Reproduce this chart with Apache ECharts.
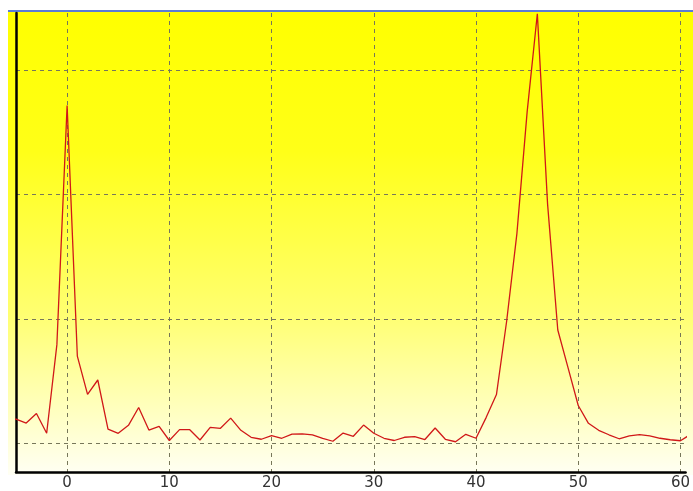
<!DOCTYPE html>
<html>
<head>
<meta charset="utf-8">
<script src="https://cdn.jsdelivr.net/npm/echarts@6/dist/echarts.min.js"></script>
<style>
  html, body { margin: 0; padding: 0; background: #ffffff; overflow: hidden; }
  #chart { position: absolute; left: 8px; top: 0; width: 685px; height: 491px; }
</style>
</head>
<body>
<div id="chart"></div>
<script>
// ---- data ----
var xValues = [-6, -5, -4, -3, -2, -1, 0, 1, 2, 3, 4, 5, 6, 7, 8, 9, 10, 11, 12, 13, 14, 15, 16, 17, 18, 19, 20,
  21, 22, 23, 24, 25, 26, 27, 28, 29, 30, 31, 32, 33, 34, 35, 36, 37, 38, 39, 40,
  41, 42, 43, 44, 45, 46, 47, 48, 49, 50, 51, 52, 53, 54, 55, 56, 57, 58, 59, 60, 61];
var yValues = [1.96, 1.94, 1.62, 2.39, 0.80, 7.92, 27.13, 7.00, 3.93, 5.08, 1.14, 0.80, 1.44, 2.87, 1.06, 1.36, 0.22,
  1.09, 1.09, 0.26, 1.28, 1.20, 2.02, 1.04, 0.48, 0.32, 0.61,
  0.40, 0.74, 0.76, 0.68, 0.40, 0.16, 0.82, 0.56, 1.46, 0.80, 0.40, 0.22, 0.48, 0.53, 0.30, 1.22, 0.32, 0.12, 0.72, 0.40,
  2.08, 3.91, 9.82, 16.84, 26.60, 34.50, 19.23, 9.10, 6.07, 3.03, 1.60, 1.04, 0.68, 0.36, 0.60, 0.69, 0.60, 0.40, 0.28, 0.20, 0.72];
var xTickValues = [0, 10, 20, 30, 40, 50, 60];
var yTickValues = [0, 10, 20, 30];

var seriesData = xValues.map(function (x, i) { return [x, yValues[i]]; });

var chart = echarts.init(document.getElementById('chart'), null, { renderer: 'canvas' });
chart.setOption({
  animation: false,
  backgroundColor: 'transparent',
  grid: { left: 8, right: 0, top: 13, bottom: 16, containLabel: false },
  graphic: [
    {
      type: 'rect', z: -100, silent: true,
      shape: { x: 0, y: 12, width: 685, height: 463 },
      style: {
        fill: {
          type: 'linear', x: 0, y: 0, x2: 0, y2: 1,
          colorStops: [
            { offset: 0, color: '#ffff00' },
            { offset: 0.3, color: '#ffff18' },
            { offset: 0.65, color: '#ffff70' },
            { offset: 1, color: '#fffff4' }
          ]
        }
      }
    },
    {
      type: 'line', z: 100, silent: true,
      shape: { x1: 0, y1: 11, x2: 685, y2: 11 },
      style: { stroke: '#2350c8', lineWidth: 1.5 }
    }
  ],
  xAxis: {
    type: 'value',
    min: -5,
    max: 60.5,
    axisLine: { show: true, onZero: false, lineStyle: { color: '#000000', width: 2.5 } },
    axisTick: { show: false, customValues: xTickValues },
    axisLabel: {
      customValues: xTickValues,
      color: '#333333',
      fontFamily: 'DejaVu Sans',
      fontSize: 15,
      margin: 4
    },
    splitLine: { show: true, lineStyle: { color: '#77775a', width: 1, type: [4, 4] } }
  },
  yAxis: {
    type: 'value',
    min: -2.31,
    max: 34.56,
    axisLine: { show: true, onZero: false, lineStyle: { color: '#000000', width: 2.5 } },
    axisTick: { show: false, customValues: yTickValues },
    axisLabel: { show: false, customValues: yTickValues },
    splitLine: { show: true, lineStyle: { color: '#77775a', width: 1, type: [4, 4] } }
  },
  series: [
    {
      type: 'line',
      data: seriesData,
      showSymbol: false,
      symbol: 'none',
      smooth: false,
      clip: true,
      lineStyle: { color: '#d01818', width: 1.3 },
      z: 5
    }
  ]
});
</script>
</body>
</html>
